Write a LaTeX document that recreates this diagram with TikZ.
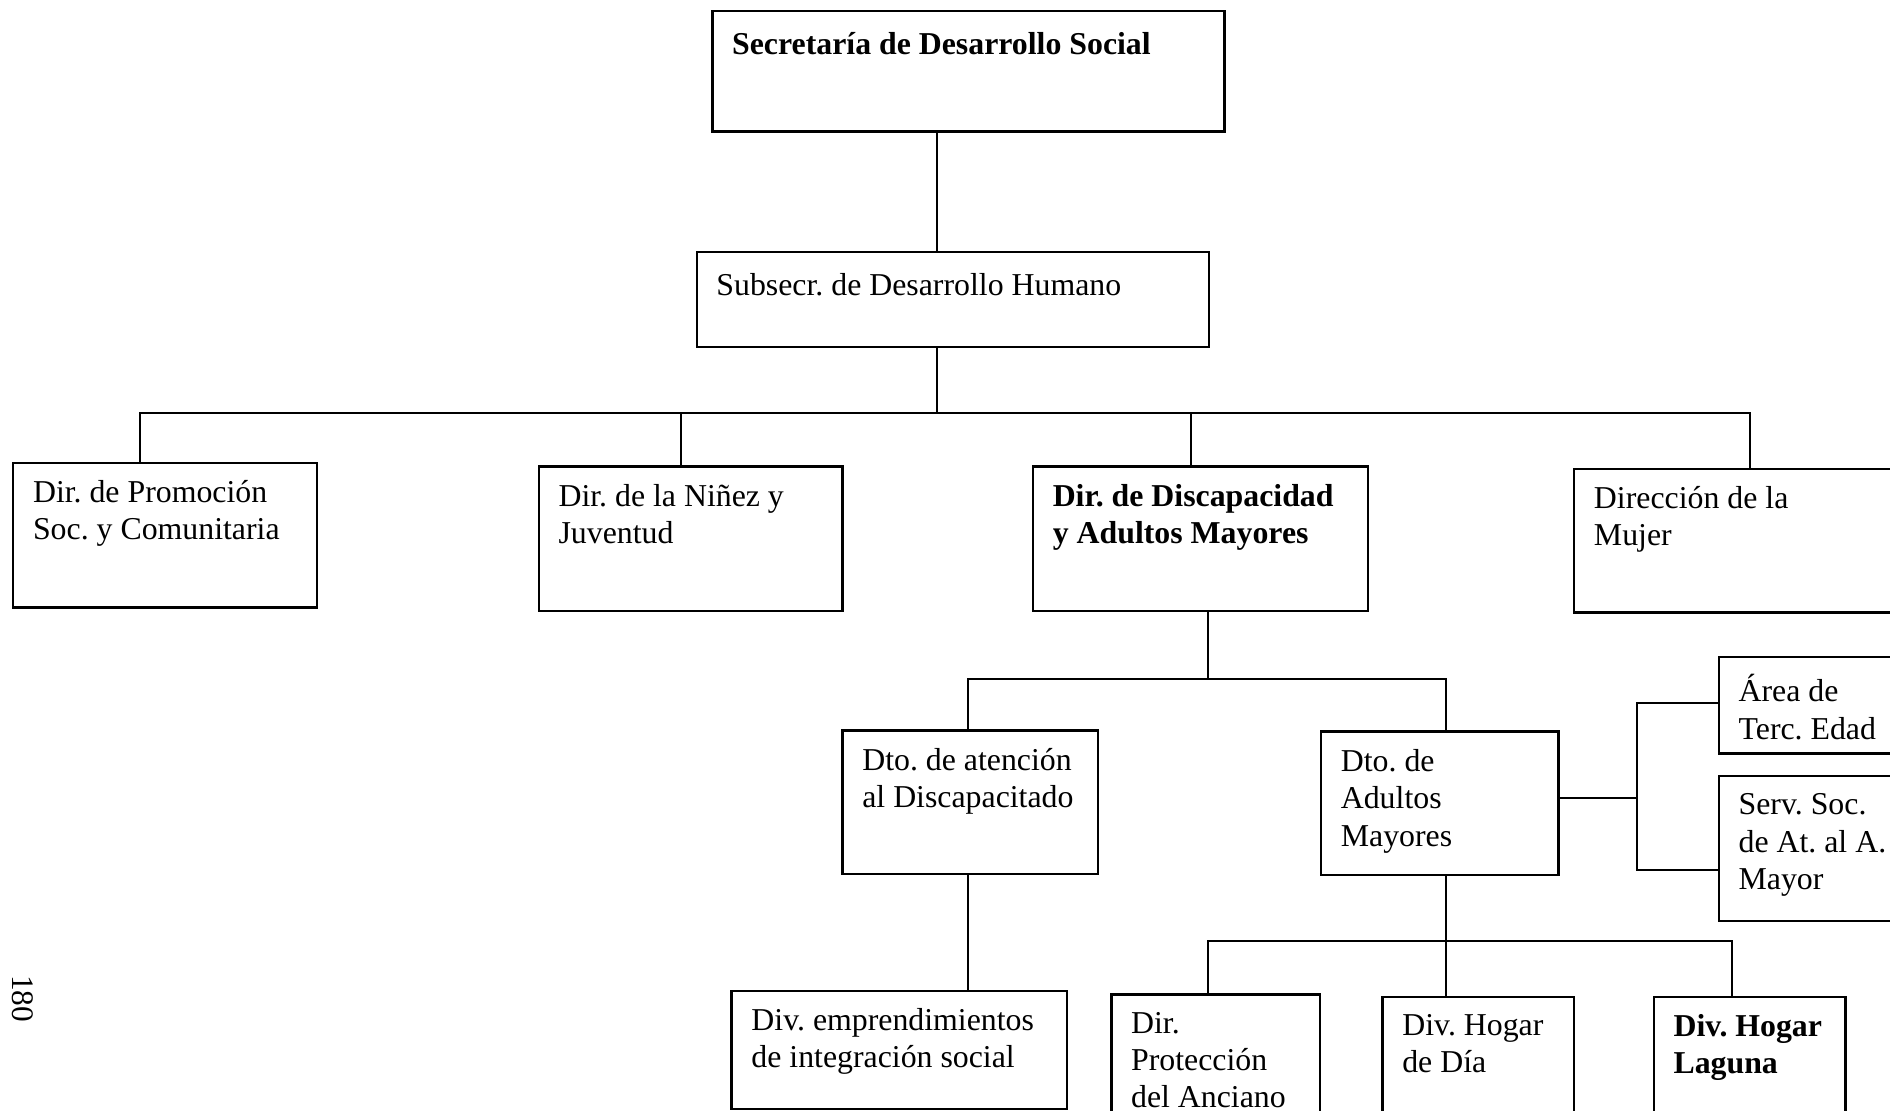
\documentclass[tikz,border=0pt]{standalone}
\usepackage{fontspec}
\setmainfont{Liberation Serif}
\frenchspacing

\tikzset{
    orgbox/.style={draw, line width=1pt, inner sep=0pt, anchor=north west},        % Box outline
    txt/.style={anchor=north west, inner sep=0pt, align=left, xshift=8.5pt, yshift=-7.6pt,
        font=\fontsize{13.2}{15.5}\selectfont, execute at begin node=\strut},       % Box text, top left
    boldtxt/.style={txt, font=\fontsize{13.2}{15.5}\selectfont\bfseries},
    link/.style={line width=0.8pt}                                                  % Connectors
}

\begin{document}
\begin{tikzpicture}[x=0.5pt,y=-0.5pt]
    \useasboundingbox (0,0) rectangle (1568,921);
    \clip (0,0) rectangle (1568,921);

    % Top levels
    \node[orgbox, minimum width=212.5pt, minimum height=50pt, label={[boldtxt]north west:{Secretaría de Desarrollo Social}}] (sec) at (590,8) {};
    \node[orgbox, minimum width=212.5pt, minimum height=39.5pt, label={[txt]north west:{Subsecr. de Desarrollo Humano}}] (sub) at (577,208) {};

    % Direcciones
    \node[orgbox, minimum width=126pt, minimum height=60pt, label={[txt]north west:{Dir. de Promoción\\Soc. y Comunitaria}}] (dpro) at (10,383) {};
    \node[orgbox, minimum width=126pt, minimum height=60pt, label={[txt]north west:{Dir. de la Niñez y\\Juventud}}] (dnin) at (446,386) {};
    \node[orgbox, minimum width=139pt, minimum height=60pt, label={[boldtxt]north west:{Dir. de Discapacidad\\y Adultos Mayores}}] (ddis) at (856,386) {};
    \node[orgbox, minimum width=147.5pt, minimum height=59.5pt, label={[txt]north west:{Dirección de la\\Mujer}}] (dmuj) at (1305,388) {};

    % Departamentos
    \node[orgbox, minimum width=106pt, minimum height=59.5pt, label={[txt]north west:{Dto. de atención\\al Discapacitado}}] (data) at (698,605) {};
    \node[orgbox, minimum width=98.5pt, minimum height=59.5pt, label={[txt]north west:{Dto. de\\Adultos\\Mayores}}] (dadm) at (1095,606) {};
    \node[orgbox, minimum width=77.5pt, minimum height=40pt, label={[txt]north west:{Área de\\Terc. Edad}}] (aterc) at (1425,544) {};
    \node[orgbox, minimum width=77.5pt, minimum height=60pt, label={[txt]north west:{Serv. Soc.\\de At. al A.\\Mayor}}] (serv) at (1425,643) {};

    % Divisiones
    \node[orgbox, minimum width=139pt, minimum height=49pt, label={[txt]north west:{Div. emprendimientos\\de integración social}}] (demp) at (606,821) {};
    \node[orgbox, minimum width=86.5pt, minimum height=60pt, label={[txt]north west:{Dir.\\Protección\\del Anciano}}] (dprot) at (921,824) {};
    \node[orgbox, minimum width=79.5pt, minimum height=60pt, label={[txt]north west:{Div. Hogar\\de Día}}] (dhog) at (1146,826) {};
    \node[orgbox, minimum width=79.5pt, minimum height=60pt, label={[boldtxt]north west:{Div. Hogar\\Laguna}}] (dlag) at (1371,826) {};

    % Page number
    \node[rotate=-90, inner sep=0pt, font=\fontsize{13}{15}\selectfont] (pg) at (18.7,828.5) {180};

    % Bus points
    \coordinate (top) at (777,343);
    \coordinate (b1) at (116,343);
    \coordinate (b2) at (565,343);
    \coordinate (b3) at (988,343);
    \coordinate (b4) at (1452,343);
    \coordinate (c0) at (1002,563);
    \coordinate (c1) at (803,563);
    \coordinate (c2) at (1200,563);
    \coordinate (e0) at (1358,662);
    \coordinate (e1) at (1358,583);
    \coordinate (e2) at (1358,722);
    \coordinate (f0) at (1200,781);
    \coordinate (f1) at (1002,781);
    \coordinate (f2) at (1437,781);

    % Connectors
    \draw[link] (sec.south -| top) -- (sub.north -| top);
    \draw[link] (sub.south -| top) -- (top);
    \draw[link] (b1 |- dpro.north) -- (b1) -- (b4) -- (b4 |- dmuj.north);
    \draw[link] (b2) -- (b2 |- dnin.north);
    \draw[link] (b3) -- (b3 |- ddis.north);
    \draw[link] (ddis.south -| c0) -- (c0);
    \draw[link] (c1 |- data.north) -- (c1) -- (c2) -- (c2 |- dadm.north);
    \draw[link] (dadm.east |- e0) -- (e0);
    \draw[link] (aterc.west |- e1) -- (e1) -- (e2) -- (serv.west |- e2);
    \draw[link] (c1 |- data.south) -- (c1 |- demp.north);
    \draw[link] (dadm.south -| f0) -- (f0 |- dhog.north);
    \draw[link] (f1 |- dprot.north) -- (f1) -- (f2) -- (f2 |- dlag.north);
\end{tikzpicture}
\end{document}
